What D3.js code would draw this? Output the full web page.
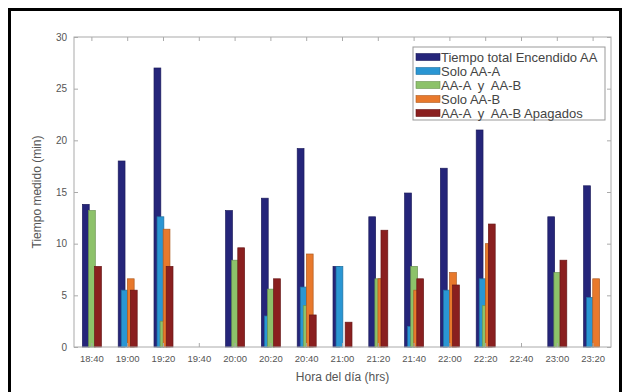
<!DOCTYPE html>
<html><head><meta charset="utf-8">
<script src="https://cdn.jsdelivr.net/npm/d3@7"></script>
<style>body{margin:0;background:#fff}svg{display:block}</style>
</head><body>
<svg id="c" width="623" height="392"></svg>
<script>
const categories = ["18:40","19:00","19:20","19:40","20:00","20:20","20:40","21:00","21:20","21:40","22:00","22:20","22:40","23:00","23:20"];
const seriesNames = ["Tiempo total Encendido AA","Solo AA-A","AA-A  y  AA-B","Solo AA-B","AA-A  y  AA-B Apagados"];
const totalOn   = [13.8, 18.0, 27.0, 0, 13.2, 14.4, 19.2, 7.8, 12.6, 14.9, 17.3, 21.0, 0, 12.6, 15.6];
const soloA     = [0,    5.5,  12.6, 0, 0,    3.0,  5.8,  7.8, 0,    2.0,  5.5,  6.6,  0, 0,    4.8];
const bothOn    = [13.2, 0,    2.5,  0, 8.4,  5.6,  4.0,  0,   6.6,  7.8,  0,    4.0,  0, 7.2,  0];
const soloB     = [0,    6.6,  11.4, 0, 0,    0,    9.0,  0,   6.6,  5.5,  7.2,  10.0, 0, 0,    6.6];
const bothOff   = [7.8,  5.5,  7.8,  0, 9.6,  6.6,  3.1,  2.4, 11.3, 6.6,  6.0,  11.9, 0, 8.4,  0];
const yTicks = [0,5,10,15,20,25,30];
const colors = ["#25257a","#2a96d3","#8dc26a","#e8792c","#8a1f1f"];
const series = [totalOn, soloA, bothOn, soloB, bothOff];

const svg = d3.select("#c");
// outer frame
svg.append("path").attr("d","M9.5,392 L9.5,9.5 L620.5,9.5 L620.5,392")
  .attr("fill","none").attr("stroke","#000").attr("stroke-width",3);

const m = {l:74, r:611, t:37, b:347};
const x = d3.scaleBand().domain(categories).range([m.l, m.r]).paddingInner(0).paddingOuter(0);
const y = d3.scaleLinear().domain([0,30]).range([m.b, m.t]);
const step = x.bandwidth()*0.085, bw = x.bandwidth()*0.19;

const textCol = "#555", axCol = "#aaa";

// bars
series.forEach((vals, si) => {
  svg.append("g").selectAll("rect").data(categories.map((c,i)=>({c, v: vals[i]})).filter(d=>d.v>0))
    .join("rect")
    .attr("x", d => x(d.c) + x.bandwidth()/2 + (si-2)*step - bw/2)
    .attr("y", d => y(d.v))
    .attr("width", bw)
    .attr("height", d => y(0) - y(d.v))
    .attr("fill", colors[si])
    .attr("stroke", d3.color(colors[si]).darker(0.8))
    .attr("stroke-width", 0.7);
});

// axes box
svg.append("rect").attr("x",m.l).attr("y",m.t).attr("width",m.r-m.l).attr("height",m.b-m.t)
  .attr("fill","none").attr("stroke",axCol).attr("stroke-width",1);

// y axis
const yAx = d3.axisLeft(y).tickValues(yTicks).tickSize(-4).tickPadding(7);
const gy = svg.append("g").attr("transform",`translate(${m.l},0)`).call(yAx);
gy.select(".domain").remove();
gy.selectAll("line").attr("stroke",axCol);
gy.selectAll("text").attr("fill",textCol).style("font","10px 'Liberation Sans', Arial, sans-serif");
const gyr = svg.append("g").attr("transform",`translate(${m.r},0)`).call(d3.axisRight(y).tickValues(yTicks).tickSize(-4).tickFormat(""));
gyr.select(".domain").remove(); gyr.selectAll("line").attr("stroke",axCol);

// x axis
const gx = svg.append("g").attr("transform",`translate(0,${m.b})`).call(d3.axisBottom(x).tickSize(-4).tickPadding(8));
gx.select(".domain").remove();
gx.selectAll("line").attr("stroke",axCol);
gx.selectAll("text").attr("fill",textCol).style("font","9.5px 'Liberation Sans', Arial, sans-serif");
const gxt = svg.append("g").attr("transform",`translate(0,${m.t})`).call(d3.axisTop(x).tickSize(-4).tickFormat(""));
gxt.select(".domain").remove(); gxt.selectAll("line").attr("stroke",axCol);

// axis labels
svg.append("text").attr("x",(m.l+m.r)/2).attr("y",381).attr("text-anchor","middle")
  .attr("fill",textCol).style("font","12px 'Liberation Sans', Arial, sans-serif").text("Hora del día (hrs)");
svg.append("text").attr("transform",`translate(41,${(m.t+m.b)/2}) rotate(-90)`).attr("text-anchor","middle")
  .attr("fill",textCol).style("font","12px 'Liberation Sans', Arial, sans-serif").text("Tiempo medido (min)");

// legend
const lg = svg.append("g");
lg.append("rect").attr("x",413).attr("y",47).attr("width",192).attr("height",73)
  .attr("fill","#fff").attr("stroke","#999").attr("stroke-width",1);
seriesNames.forEach((n,i)=>{
  const yy = 57 + i*14;
  lg.append("rect").attr("x",416).attr("y",yy-3.5).attr("width",24).attr("height",7)
    .attr("fill",colors[i]).attr("stroke",d3.color(colors[i]).darker(0.8)).attr("stroke-width",0.6);
  lg.append("text").attr("x",441).attr("y",yy+4.5).attr("fill","#444")
    .style("font","13px 'Liberation Sans', Arial, sans-serif").style("white-space","pre").attr("xml:space","preserve")
    .attr("textLength", null).text(n);
});
</script>
</body></html>
